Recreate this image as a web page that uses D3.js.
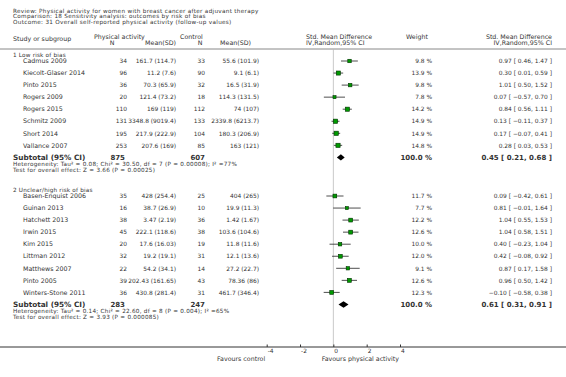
<!DOCTYPE html>
<html>
<head>
<meta charset="utf-8">
<script src="https://cdn.jsdelivr.net/npm/d3@7"></script>
<style>
body{margin:0;background:#fff;}
svg{display:block;font-family:"DejaVu Sans",Verdana,sans-serif;}
</style>
</head>
<body>
<div id="wrapper"></div>
<script>
// Data
const titleLines = ['Review:  Physical activity for women with breast cancer after adjuvant therapy',
  'Comparison:  18 Sensitivity analysis: outcomes by risk of bias',
  'Outcome:  31 Overall self-reported physical activity (follow-up values)'];

const lowStudies = ['Cadmus 2009','Kiecolt-Glaser 2014','Pinto 2015','Rogers 2009','Rogers 2015','Schmitz 2009','Short 2014','Vallance 2007'];
const lowNE = [34,96,36,20,110,131,195,253];
const lowMeanE = ['161.7 (114.7)','11.2 (7.6)','70.3 (65.9)','121.4 (73.2)','169 (119)','3348.8 (9019.4)','217.9 (222.9)','207.6 (169)'];
const lowNC = [33,90,32,18,112,133,104,85];
const lowMeanC = ['55.6 (101.9)','9.1 (6.1)','16.5 (31.9)','114.3 (131.5)','74 (107)','2339.8 (6213.7)','180.3 (206.9)','163 (121)'];
const lowWeight = [9.8,13.9,9.8,7.8,14.2,14.9,14.9,14.8];
const lowSmd = [0.97,0.30,1.01,0.07,0.84,0.13,0.17,0.28];
const lowLo = [0.46,0.01,0.50,-0.57,0.56,-0.11,-0.07,0.03];
const lowHi = [1.47,0.59,1.52,0.70,1.11,0.37,0.41,0.53];
const lowTotal = {nE:875, nC:607, smd:0.45, lo:0.21, hi:0.68};
const lowNotes = ['Heterogeneity: Tau\u00b2 = 0.08; Chi\u00b2 = 30.50, df = 7 (P = 0.00008); I\u00b2 =77%',
  'Test for overall effect: Z = 3.66 (P = 0.00025)'];

const highStudies = ['Basen-Enquist 2006','Guinan 2013','Hatchett 2013','Irwin 2015','Kim 2015','Littman 2012','Matthews 2007','Pinto 2005','Winters-Stone 2011'];
const highNE = [35,16,38,45,20,32,22,39,36];
const highMeanE = ['428 (254.4)','38.7 (26.9)','3.47 (2.19)','222.1 (118.6)','17.6 (16.03)','19.2 (19.1)','54.2 (34.1)','202.43 (161.65)','430.8 (281.4)'];
const highNC = [25,10,36,38,19,31,14,43,31];
const highMeanC = ['404 (265)','19.9 (11.3)','1.42 (1.67)','103.6 (104.6)','11.8 (11.6)','12.1 (13.6)','27.2 (22.7)','78.36 (86)','461.7 (346.4)'];
const highWeight = [11.7,7.7,12.2,12.6,10.0,12.0,9.1,12.6,12.3];
const highSmd = [0.09,0.81,1.04,1.04,0.40,0.42,0.87,0.96,-0.10];
const highLo = [-0.42,-0.01,0.55,0.58,-0.23,-0.08,0.17,0.50,-0.58];
const highHi = [0.61,1.64,1.53,1.51,1.04,0.92,1.58,1.42,0.38];
const highTotal = {nE:283, nC:247, smd:0.61, lo:0.31, hi:0.91};
const highNotes = ['Heterogeneity: Tau\u00b2 = 0.14; Chi\u00b2 = 22.60, df = 8 (P = 0.004); I\u00b2 =65%',
  'Test for overall effect: Z = 3.93 (P = 0.000085)'];

const tickValues = [-4,-2,0,2,4];

// Dimension
const dimension = {width:566, height:377, axisY:347, headerLineY:49};
const col = {label:13, study:23, nE:127, meanE:176, nC:205, meanC:259, weight:432, ci:552};
const fs = 6.3, fsSmall = 5.7, fsNum = 5.9, fsBold = 7.3, fsBoldNum = 7;
const ink = '#333';

// Canvas
const svg = d3.select('#wrapper').append('svg')
  .attr('width',dimension.width).attr('height',dimension.height);

// Scales
const xScale = d3.scaleLinear().domain([-4,4]).range([266.7,400]);
const rowScale = d3.scaleLinear().domain([0,1]).range([0,12.05]);
const fmt2 = d3.format('.2f');
const ciText = (s,l,h) => `${fmt2(s)} [ ${fmt2(l)}, ${fmt2(h)} ]`;

const addText = (g,x,y,txt,opts={}) => g.append('text')
  .attr('x',x).attr('y',y).text(txt)
  .attr('font-size',opts.size||fs)
  .attr('font-weight',opts.bold?'bold':null)
  .attr('letter-spacing',opts.ls||null)
  .attr('text-anchor',opts.anchor||'start')
  .attr('fill',opts.fill||ink);

// Titles and header
const head = svg.append('g');
titleLines.forEach((t,i)=>addText(head,13,12.6+i*5.6,t,{size:fsSmall,ls:0.3}));
addText(head,13,40.5,'Study or subgroup');
addText(head,94,39.3,'Physical activity');
addText(head,112,45.3,'N',{anchor:'middle'});
addText(head,176,45.3,'Mean(SD)',{anchor:'end'});
addText(head,180,39.3,'Control');
addText(head,200,45.3,'N',{anchor:'middle'});
addText(head,251,45.3,'Mean(SD)',{anchor:'end'});
addText(head,306,39.3,'Std. Mean Difference');
addText(head,306,45,'IV,Random,95% CI');
addText(head,406,39.3,'Weight');
addText(head,552,39.3,'Std. Mean Difference',{anchor:'end'});
addText(head,552,45,'IV,Random,95% CI',{anchor:'end'});

head.append('line').attr('x1',0).attr('x2',dimension.width)
  .attr('y1',dimension.headerLineY).attr('y2',dimension.headerLineY)
  .attr('stroke','#888').attr('stroke-width',1);

// zero line
svg.append('line').attr('x1',xScale(0)).attr('x2',xScale(0))
  .attr('y1',dimension.headerLineY).attr('y2',dimension.axisY)
  .attr('stroke','#bbb').attr('stroke-width',0.8);

// Draw groups
const drawGroup = (title, top, names, nE, meanE, nC, meanC, weight, smd, lo, hi, total, notes) => {
  const g = svg.append('g');
  addText(g,col.label,top-4.3,title,{size:fsSmall,ls:0.2});
  const rows = names.map((n,i)=>({name:n,nE:nE[i],meanE:meanE[i],nC:nC[i],meanC:meanC[i],w:weight[i],smd:smd[i],lo:lo[i],hi:hi[i]}));
  const yc = i => top + rowScale(i);
  const row = g.selectAll('g.row').data(rows).join('g').attr('class','row');
  row.each(function(d,i){
    const r = d3.select(this), y = yc(i), yb = y+2.2;
    addText(r,col.study,yb,d.name);
    addText(r,col.nE,yb,d.nE,{anchor:'end',size:fsNum});
    addText(r,col.meanE,yb,d.meanE,{anchor:'end',size:fsNum});
    addText(r,col.nC,yb,d.nC,{anchor:'end',size:fsNum});
    addText(r,col.meanC,yb,d.meanC,{anchor:'end',size:fsNum});
    addText(r,col.weight,yb,d.w.toFixed(1)+' %',{anchor:'end',size:fsNum});
    addText(r,col.ci,yb,ciText(d.smd,d.lo,d.hi),{anchor:'end',size:fsNum});
    r.append('line').attr('x1',xScale(d.lo)).attr('x2',xScale(d.hi))
      .attr('y1',y).attr('y2',y).attr('stroke','#222').attr('stroke-width',0.8);
    const s = 1.1*Math.sqrt(d.w);
    r.append('rect').attr('x',xScale(d.smd)-s/2).attr('y',y-s/2)
      .attr('width',s).attr('height',s)
      .attr('fill','#009a00').attr('stroke','#003300').attr('stroke-width',0.6);
  });
  const ys = yc(names.length), ysb = ys+2.4;
  addText(g,col.label,ysb,'Subtotal (95% CI)',{bold:true,size:fsBold});
  addText(g,col.nE-2,ysb,total.nE,{bold:true,size:fsBoldNum,anchor:'end'});
  addText(g,col.nC,ysb,total.nC,{bold:true,size:fsBoldNum,anchor:'end'});
  addText(g,col.weight,ysb,'100.0 %',{bold:true,size:fsBoldNum,anchor:'end'});
  addText(g,col.ci,ysb,ciText(total.smd,total.lo,total.hi),{bold:true,size:fsBoldNum,anchor:'end'});
  g.append('path')
    .attr('d',`M${xScale(total.lo)},${ys}L${xScale(total.smd)},${ys-3.2}L${xScale(total.hi)},${ys}L${xScale(total.smd)},${ys+3.2}Z`)
    .attr('fill','#000');
  notes.forEach((t,i)=>addText(g,col.label,ys+8.6+i*5.5,t,{size:fsSmall,ls:0.25}));
};

drawGroup('1 Low risk of bias',61,lowStudies,lowNE,lowMeanE,lowNC,lowMeanC,lowWeight,lowSmd,lowLo,lowHi,lowTotal,lowNotes);
drawGroup('2 Unclear/high risk of bias',196,highStudies,highNE,highMeanE,highNC,highMeanC,highWeight,highSmd,highLo,highHi,highTotal,highNotes);

// Axis
svg.append('line').attr('x1',0).attr('x2',dimension.width)
  .attr('y1',dimension.axisY).attr('y2',dimension.axisY)
  .attr('stroke','#333').attr('stroke-width',1);
const xAxisGenerator = d3.axisBottom(xScale).tickValues(tickValues)
  .tickSize(-2.5).tickPadding(1).tickFormat(d=>String(d));
const xAxis = svg.append('g').attr('transform',`translate(0,${dimension.axisY})`).call(xAxisGenerator);
xAxis.select('.domain').remove();
xAxis.selectAll('.tick line').attr('stroke','#333');
xAxis.selectAll('.tick text').attr('font-size',fsNum).attr('font-family','DejaVu Sans')
  .attr('fill',ink).attr('text-anchor','start').attr('x',0.5).attr('dy','0.85em');
addText(svg,xScale(-4)-1.5,361,'Favours control',{anchor:'end'});
addText(svg,xScale(4)-1,361,'Favours physical activity',{anchor:'end'});
</script>
</body>
</html>
